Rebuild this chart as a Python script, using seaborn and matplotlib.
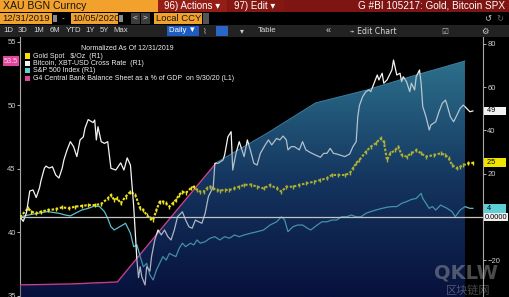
import numpy as np
import pandas as pd
import matplotlib
matplotlib.use('Agg')
import matplotlib.pyplot as plt
import matplotlib.dates as mdates
import matplotlib.transforms as mtransforms
from matplotlib.colors import LinearSegmentedColormap
from matplotlib.patches import Rectangle
import seaborn as sns

# ---------------- data ----------------
START = '2019-12-31'
END_DAYS = 285.1   # right edge of the plotting window, days after START

btc_days = [0, 2, 4, 6, 8, 10, 12, 13, 15, 16, 18, 20, 22, 24, 26, 27, 29, 31, 33, 35,
            37, 39, 40, 42, 45, 46, 47, 48, 50, 52, 54, 56, 59, 62, 64, 66, 68, 70, 72, 73,
            74, 75, 77, 78, 80, 81, 83, 85, 87, 89, 91, 93, 95, 97, 100, 102, 104, 106, 108, 110,
            112, 114, 116, 118, 119, 120, 122, 125, 126, 128, 130, 131, 133, 135, 138, 140, 142, 144, 146, 148,
            151, 153, 155, 158, 160, 162, 164, 165, 167, 169, 172, 174, 176, 179, 182, 185, 187, 189, 191, 193,
            195, 197, 200, 203, 205, 207, 208, 209, 211, 213, 215, 216, 218, 220, 221, 223, 224, 226, 227, 229,
            230, 232, 234, 235, 236, 238, 240, 241, 243, 244, 246, 247, 248, 250, 252, 253, 256, 258, 260, 262,
            263, 265, 267, 269, 271, 273, 275, 277, 279]
btc_vals = [0, -2, 2, 12, 12.5, 9, 13.4, 17, 22.5, 23.5, 22.6, 23.2, 19.4, 18, 22.6, 26.3, 31, 34.8, 32.5, 27.9,
            35.6, 37, 41, 45, 43.6, 44.8, 35.6, 41.7, 34.8, 34, 34.8, 22.5, 21.7, 25, 21.7, 27.3, 24, 5, -20, -28,
            -23, -27.6, -31.4, -23, -25, -18.3, -10.6, -6, -8.3, -6, -9, -10.6, -6, 0.1, 2.4, -1.4, -4.5, -5.2, -1.4, -2.2,
            -2.9, 1.7, 9.4, 12.5, 14, 24.8, 24.8, 26.3, 28.6, 37, 39.4, 21.7, 29.4, 34.8, 27.9, 35.6, 30.5, 24.8, 24, 29.4,
            33.3, 35.6, 33.3, 36.3, 35.6, 37.4, 35.6, 31, 32.5, 32.5, 31, 34.8, 31, 29.7, 28.6, 27.6, 29.4, 29.4, 31.7, 29.4,
            29.1, 28.6, 27.9, 29.1, 32.5, 34.8, 46.3, 51.5, 55.6, 57.9, 58.7, 57.9, 61.8, 65.6, 63.3, 66.4, 61.8, 63.3, 64.8, 67.9,
            72.5, 65.6, 66.4, 62.5, 64.8, 62.5, 57.9, 61.8, 58.7, 64.8, 67.9, 61.8, 51, 46.3, 40.2, 42.5, 44, 48.6, 52.5, 54,
            51.7, 46.3, 44, 47, 50.2, 51.7, 50.2, 48.6, 49]

gold_days = [0, 5, 7, 10, 13, 17, 22, 26, 30, 34, 38, 42, 46, 50, 54, 56, 58, 60, 62, 65,
             68, 71, 74, 76, 78, 80, 82, 84, 86, 88, 90, 92, 94, 96, 98, 100, 102, 105, 107, 109,
             111, 113, 115, 117, 119, 121, 123, 126, 129, 132, 135, 138, 142, 146, 150, 154, 158, 161, 164, 168,
             172, 176, 181, 185, 189, 192, 196, 200, 203, 205, 207, 209, 213, 216, 219, 222, 224, 226, 228, 231,
             233, 235, 238, 241, 244, 247, 250, 255, 259, 262, 264, 266, 269, 271, 273, 276, 279]
gold_vals = [0, 4, 2.5, 1.7, 2.5, 3.2, 3.6, 4.5, 4, 4.8, 5.1, 5.5, 5.5, 6, 8.6, 10.2, 7.9, 8.6, 6.3, 9.4,
             11.7, 10.2, 4, 3.2, 0.9, -0.6, -1.4, 3.2, 7.1, 7.1, 6.3, 4.8, 6.3, 7.9, 10.2, 11.7, 11, 13.2, 14, 12.5,
             11.7, 11.7, 13.2, 14, 13.2, 12.5, 12.2, 12.5, 12.5, 13.2, 14, 14.8, 15, 14, 13.2, 14.8, 13.2, 11.7, 14, 14,
             14.8, 15.5, 16.3, 17.1, 17.9, 19.4, 19.4, 19.4, 20.2, 22.5, 24.8, 26.3, 30.2, 32.5, 34, 36.3, 34.8, 26.3, 29.4, 30.9,
             32.5, 28.6, 27.9, 29.4, 30.9, 29.4, 27.9, 28.6, 29.4, 28.6, 27.1, 24, 22.5, 23.2, 24, 24.8, 25]

spx_days = [0, 5, 11, 17, 24, 28, 31, 34, 38, 42, 46, 49, 52, 54, 56, 58, 65, 68, 70, 72,
            74, 76, 78, 80, 82, 84, 86, 88, 90, 92, 94, 96, 98, 100, 102, 105, 107, 109, 111, 114,
            117, 120, 123, 126, 129, 132, 135, 138, 142, 146, 150, 154, 158, 161, 163, 165, 168, 171, 174, 177,
            179, 183, 186, 189, 192, 195, 198, 201, 204, 207, 210, 213, 216, 219, 223, 226, 229, 232, 235, 238,
            241, 244, 247, 248, 250, 252, 254, 256, 259, 263, 266, 268, 271, 274, 277, 279]
spx_vals = [0, 0.9, 1.7, 2.5, 1.7, 0.9, 0.5, 1.7, 3.2, 4, 5.1, 4.8, 2.5, -0.6, -4.5, -6, -2.9, -7.5, -13.7, -12.9,
            -18.3, -23, -21.4, -26.8, -29.1, -24.5, -21.4, -18.3, -19.9, -16.8, -17.6, -18.3, -14.5, -12.1, -13.7, -12.1, -12.9, -10.6, -12.1, -11.4,
            -9.8, -9.1, -10.6, -9.1, -9.8, -8.3, -9.1, -8.3, -7.5, -6.8, -6, -3.7, -2.2, 0.1, -1.4, -6.8, -4.5, -3.7, -3.7, -5.2,
            -6, -3.7, -2.2, -2.2, -1.4, -1.4, 0.1, 0.1, 0.9, 0.1, 0.1, 1.7, 2.5, 3.2, 4, 4.5, 4.8, 4.8, 6.3, 7.1,
            8.1, 8.6, 10.9, 8.6, 6.3, 4, 4.8, 3.2, 5.5, 4, 2.5, 0.1, 3.2, 4.8, 4, 4]

g4_dates = ['2019-12-31', '2020-01-31', '2020-02-29', '2020-03-31', '2020-04-30',
            '2020-05-31', '2020-06-30', '2020-07-31', '2020-08-31', '2020-09-30']
g4_vals = [35.87, 35.94, 36.1, 40.9, 45.5, 47.8, 50.2, 51.2, 52.4, 53.5]

end_labels = [('49', 49, '#f2f2f2'), ('25', 25, '#f3e400'), ('4', 4, '#5fcfd6'), ('0.0000', 0, '#eeeeee')]
legend_title = 'Normalized As Of 12/31/2019'
legend_items = [('Gold Spot   $/Oz  (R1)', '#f3e400'),
                ('Bitcoin, XBT-USD Cross Rate  (R1)', '#f2f2f2'),
                ('S&P 500 Index (R1)', '#5fcfd6'),
                ('G4 Central Bank Balance Sheet as a % of GDP  on 9/30/20 (L1)', '#e2459c')]
left_ticks = [35, 40, 45, 50, 55]
right_ticks = [-20, 20, 40, 60, 80]
L_LIM = (34.92, 55.39)
R_LIM = (-36.95, 83.14)

# ---------------- style ----------------
sns.set_style('ticks')
plt.rcParams['font.family'] = ['Liberation Sans', 'DejaVu Sans', 'Noto Sans CJK SC']

base = pd.Timestamp(START)
def frame(days, vals):
    return pd.DataFrame({'date': base + pd.to_timedelta(days, unit='D'), 'v': vals})

btc = frame(btc_days, btc_vals)
gold = frame(gold_days, gold_vals)
spx = frame(spx_days, spx_vals)
g4 = pd.DataFrame({'date': pd.to_datetime(g4_dates), 'v': g4_vals})

fig = plt.figure(figsize=(5.09, 2.97), dpi=100, facecolor='black')
axl = fig.add_axes([20 / 509, 0, 463 / 509, 260 / 297])
axl.set_facecolor('black')
axr = axl.twinx()

xn0 = mdates.date2num(base)
xn1 = mdates.date2num(base + pd.Timedelta(days=END_DAYS))

# gradient area under G4 series
cmap = LinearSegmentedColormap.from_list('g4', [(0, '#07113c'), (0.45, '#14355f'),
                                                (0.9, '#2c6f8b'), (1, '#3380a0')])
grad = np.linspace(0, 1, 256).reshape(-1, 1)
poly = axl.fill_between(mdates.date2num(g4['date']), g4['v'], L_LIM[0],
                        facecolor='none', edgecolor='none')
clip = poly.get_paths()[0]
im = axl.imshow(grad, extent=[xn0, xn1, L_LIM[0], L_LIM[1]], origin='lower',
                aspect='auto', cmap=cmap, zorder=1)
im.set_clip_path(clip, axl.transData)
sns.lineplot(data=g4.iloc[4:], x='date', y='v', ax=axl, color='#3e86a4', lw=0.7,
             estimator=None, zorder=2)
sns.lineplot(data=g4.iloc[:5], x='date', y='v', ax=axl, color='#e2459c', lw=1.0,
             estimator=None, zorder=3)

# right-axis series
sns.lineplot(data=spx, x='date', y='v', ax=axr, color='#5bbfcc', lw=0.9, estimator=None, zorder=3)
sns.lineplot(data=gold, x='date', y='v', ax=axr, color='#ece21e', lw=1.5, estimator=None,
             linestyle=(0, (1.2, 0.8)), marker='|', markersize=3.4, markeredgewidth=1.0,
             markeredgecolor='#ece21e', zorder=3)
sns.lineplot(data=btc, x='date', y='v', ax=axr, color='#f4f4f4', lw=0.9, estimator=None, zorder=3)

im2 = axr.imshow(grad, extent=[xn0, xn1, R_LIM[0], R_LIM[1]], origin='lower',
                 aspect='auto', cmap=cmap, alpha=0.3, zorder=4)
im2.set_clip_path(clip, axl.transData)
axr.axhline(0, color='#c4c4c4', lw=0.9, zorder=6)

for ax in (axl, axr):
    ax.set_xlim(xn0, xn1)
    ax.set_xlabel('')
    ax.set_ylabel('')
    ax.grid(False)
    ax.tick_params(axis='x', bottom=False, labelbottom=False)
    for s in ('top', 'bottom'):
        ax.spines[s].set_visible(False)
axl.set_ylim(*L_LIM)
axr.set_ylim(*R_LIM)
axl.set_yticks(left_ticks)
axr.set_yticks(right_ticks)
axl.tick_params(axis='y', colors='#cfcfcf', labelsize=5.5, length=2, width=0.6, pad=1)
axr.tick_params(axis='y', colors='#cfcfcf', labelsize=5.5, length=2, width=0.6, pad=1)
axl.spines['left'].set_color('#a8a8a8')
axl.spines['left'].set_linewidth(0.8)
axl.spines['right'].set_visible(False)
axr.spines['left'].set_visible(False)
axr.spines['right'].set_color('#a8a8a8')
axr.spines['right'].set_linewidth(0.8)

# end-value labels (boxes run to the right edge of the figure)
tr_r = mtransforms.blended_transform_factory(axr.transAxes, axr.transData)
pad_spaces = {'49': 5, '25': 5, '4': 7, '0.0000': 0}
for s, v, fc in end_labels:
    lab = (' ' + s if s != '0.0000' else s) + ' ' * pad_spaces[s]
    axr.text(1.004, v, lab, transform=tr_r, ha='left', va='center',
             fontsize=5.3, color='black', clip_on=False, zorder=10,
             bbox=dict(boxstyle='square,pad=0.12', fc=fc, ec='none'))
tr_l = mtransforms.blended_transform_factory(axl.transAxes, axl.transData)
axl.text(-0.004, g4_vals[-1], '53.5', transform=tr_l, ha='right', va='center',
         fontsize=5.3, color='#ffd6ec', clip_on=False, zorder=10,
         bbox=dict(boxstyle='square,pad=0.15', fc='#e2459c', ec='none'))

# ---------------- overlay: terminal chrome, legend, watermark ----------------
ov = fig.add_axes([0, 0, 1, 1], zorder=20)
ov.set_xlim(0, 509)
ov.set_ylim(297, 0)
ov.axis('off')

def box(x, y, w, h, c):
    ov.add_patch(Rectangle((x, y), w, h, facecolor=c, edgecolor='none'))

def txt(x, y, s, c='white', fs=6, ha='left', **kw):
    ov.text(x, y, s, color=c, fontsize=fs, ha=ha, va='center', **kw)

# row 1
box(0, 0, 509, 12, '#7e1512')
box(0, 0, 158, 12, '#f2a22c')
box(158, 0, 69, 12, '#941d16')
box(228, 0, 56, 12, '#851713')
txt(3, 6, 'XAU BGN Curncy', c='#141414', fs=7.6)
txt(164, 6, '96) Actions ▾', fs=7)
txt(234, 6, '97) Edit ▾', fs=7)
txt(505, 6, 'G #BI 105217: Gold, Bitcoin SPX', fs=7.2, ha='right')
# row 2
box(0, 12, 509, 13, '#000000')
box(0, 13, 52, 11, '#f2a22c')
txt(2, 18.5, '12/31/2019', c='#141414', fs=6.8)
box(53, 15, 4, 7, '#8a8a8a')
txt(62, 18.5, '-', c='#dddddd', fs=6)
box(71, 13, 47, 11, '#f2a22c')
txt(72.5, 18.5, '10/05/2020', c='#141414', fs=6.8)
box(119, 15, 4, 7, '#8a8a8a')
box(131, 13, 9, 11, '#3c3c3c')
txt(135.5, 18.5, '<', c='#dddddd', fs=6, ha='center')
box(141, 13, 9, 11, '#3c3c3c')
txt(145.5, 18.5, '>', c='#dddddd', fs=6, ha='center')
box(154, 13, 48, 11, '#f2a22c')
txt(156, 18.5, 'Local CCY', c='#141414', fs=6.8)
box(203, 13, 6, 11, '#555555')
txt(488, 18.5, '↺', c='#d0d0d0', fs=6, ha='center', family=['DejaVu Sans'])
txt(500, 18.5, '↻', c='#6a6a6a', fs=6, ha='center', family=['DejaVu Sans'])
# row 3
box(0, 25, 509, 12, '#222222')
for x, s in [(3, '1D'), (18, '3D'), (33, '1M'), (50, '6M'), (66, 'YTD'), (85, '1Y'), (100, '5Y'), (113, 'Max')]:
    txt(x, 31, s, c='#d8d8d8', fs=5.6)
box(167, 26, 32, 10, '#1f5cc0')
txt(169, 31, 'Daily ▼', c='white', fs=5.6)
txt(203, 31, '⌇', c='#bbbbbb', fs=5.6, family=['DejaVu Sans'])
box(216, 26, 12, 10, '#2a66c8')
txt(240, 31, '▾', c='#cccccc', fs=5.6, family=['DejaVu Sans'])
txt(258, 31, 'Table', c='#d8d8d8', fs=5.6)
txt(326, 31, '«', c='#d8d8d8', fs=6.5)
txt(350, 31, '⌁ Edit Chart', c='#d8d8d8', fs=5.6, family=['DejaVu Sans'])
txt(441, 31, '☑', c='#bbbbbb', fs=5.6, family=['DejaVu Sans'])
txt(481, 31, '⚙', c='#cccccc', fs=6, family=['DejaVu Sans'])

# legend
txt(127, 48, legend_title, c='#f0f0f0', fs=5.0, ha='center')
for i, (label, col) in enumerate(legend_items):
    y = 56 + i * 7.4
    box(25, y - 2.6, 5.2, 5.2, col)
    txt(33, y, label, c='#f0f0f0', fs=5.0)

# watermark
ov.text(466, 273, 'QKLW', color='#a8a8a8', alpha=0.45, fontsize=14, fontweight='bold',
        ha='center', va='center', family=['DejaVu Sans'])
ov.text(468, 290, '区块链网', color='#a8a8a8', alpha=0.45, fontsize=8,
        ha='center', va='center', family=['Noto Sans CJK SC'])

fig.savefig('out.png', dpi=100, facecolor='black')
